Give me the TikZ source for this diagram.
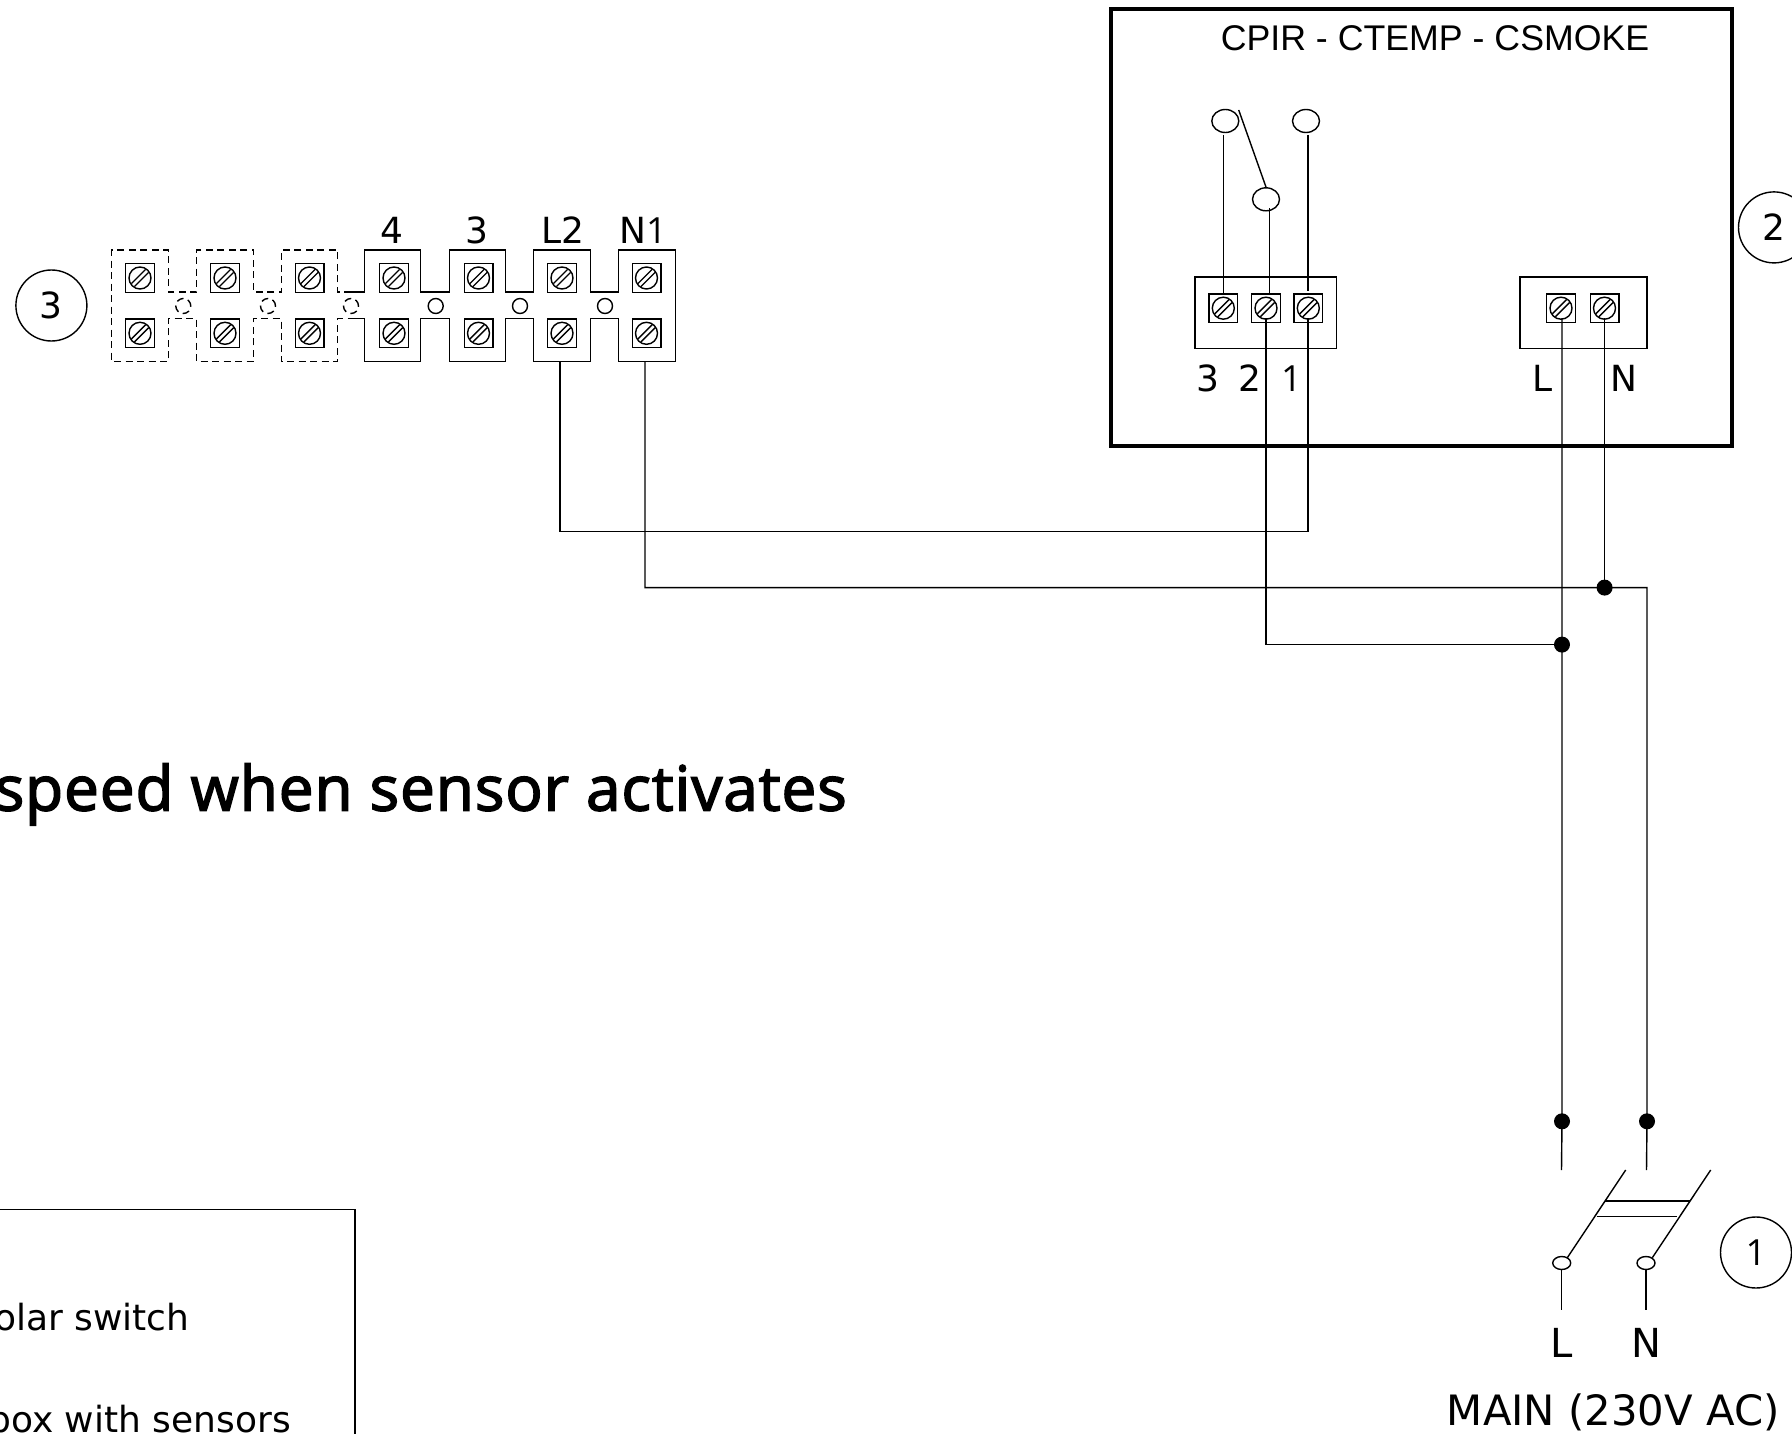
\documentclass[tikz,border=0pt]{standalone}
\usepackage{fontspec}
\setmainfont{DejaVu Sans}
\newfontfamily\helv{Liberation Sans}
\newfontfamily\onefont{Open Sans}
\newfontfamily\titlefam[FakeBold=2.5,LetterSpace=1.5]{Open Sans}
\newcommand{\lblfont}{\fontsize{36}{36}\selectfont}
\newcommand{\titlefont}{\titlefam\fontsize{62}{62}\selectfont}
\newcommand{\bigfont}{\fontsize{40}{40}\selectfont}
\newcommand{\mainfontsz}{\fontsize{41.8}{41.8}\selectfont}
\usetikzlibrary{shapes.geometric,calc}
\tikzset{
  wire/.style={line width=1.4pt,black},
  dashwire/.style={wire,dash pattern=on 7pt off 4.5pt},
  lbl/.style={inner sep=0pt,anchor=base,font=\lblfont},
  screwbox/.style={draw,line width=1.4pt,minimum size=28.6pt,inner sep=0pt,outer sep=0pt},
  dot/.style={circle,fill=black,minimum size=16pt,inner sep=0pt},
  oval/.style={ellipse,draw,line width=1.4pt,inner sep=0pt,minimum width=27pt,minimum height=23pt},
  joint/.style={circle,draw,line width=1.4pt,inner sep=0pt,minimum size=15pt},
  numcircle/.style={circle,draw,line width=1.4pt,minimum size=71pt,inner sep=0pt,font=\lblfont}
}
\newcommand{\screw}[3]{%
  \node[screwbox] (#1) at (#2,#3) {};
  \draw[wire] (#2,#3) circle (11pt);
  \draw[wire] ($(#2,#3)+(-8.6,5.6)$) -- ($(#2,#3)+(5.6,-8.6)$);
  \draw[wire] ($(#2,#3)+(-5.6,8.6)$) -- ($(#2,#3)+(8.6,-5.6)$);
}
\begin{document}
\begin{tikzpicture}[x=1pt,y=-1pt]
\useasboundingbox (0,0) rectangle (1792,1434);
\clip (0,0) rectangle (1792,1434);
% terminal strip outline
\draw[dashwire]
  (351,292) -- (337.7,292) -- (337.7,250) -- (281.3,250) -- (281.3,292) -- (253.3,292) -- (253.3,250) -- (196.7,250) -- (196.7,292) -- (168.3,292) -- (168.3,250) -- (111.7,250) -- (111.7,361.7) -- (168.3,361.7) -- (168.3,318.7) -- (196.7,318.7) -- (196.7,361.7) -- (253.3,361.7) -- (253.3,318.7) -- (281.3,318.7) -- (281.3,361.7) -- (337.7,361.7) -- (337.7,318.7) -- (351,318.7);
\draw[wire] (351,292) -- (364.3,292) -- (364.3,250) -- (420.7,250) -- (420.7,292) -- (449.3,292) -- (449.3,250) -- (505.7,250) -- (505.7,292) -- (533.7,292) -- (533.7,250) -- (590.7,250) -- (590.7,292) -- (618.7,292) -- (618.7,250) -- (675.3,250) -- (675.3,361.7) -- (618.7,361.7) -- (618.7,318.7) -- (590.7,318.7) -- (590.7,361.7) -- (533.7,361.7) -- (533.7,318.7) -- (505.7,318.7) -- (505.7,361.7) -- (449.3,361.7) -- (449.3,318.7) -- (420.7,318.7) -- (420.7,361.7) -- (364.3,361.7) -- (364.3,318.7) -- (351,318.7);
% strip screws
\screw{ta1}{140}{278}\screw{tb1}{140}{333.3}
\screw{ta2}{225}{278}\screw{tb2}{225}{333.3}
\screw{ta3}{309.5}{278}\screw{tb3}{309.5}{333.3}
\screw{ta4}{394}{278}\screw{tb4}{394}{333.3}
\screw{ta5}{478.5}{278}\screw{tb5}{478.5}{333.3}
\screw{ta6}{562}{278}\screw{tb6}{562}{333.3}
\screw{ta7}{646.5}{278}\screw{tb7}{646.5}{333.3}
% strip joints
\node[joint,dashwire] (j1) at (183.3,306) {};
\node[joint,dashwire] (j2) at (268,306) {};
\node[joint,dashwire] (j3) at (351,306) {};
\node[joint] (j4) at (435.7,306) {};
\node[joint] (j5) at (520,306) {};
\node[joint] (j6) at (605,306) {};
% strip labels
\node[lbl] (l4) at (392,243.5) {4};
\node[lbl] (l3) at (477,243.5) {3};
\node[lbl] (lL2) at (562.5,243.5) {L2};
\node[lbl] (lN1) at (643,243.5) {N{\onefont 1}};
\node[numcircle] (c3) at (51.4,305.5) {3};
% main box
\node[draw,line width=4pt,minimum width=621pt,minimum height=436.7pt,inner sep=0pt] (box) at (1421.5,227.4) {};
\node[inner sep=0pt,anchor=base,font=\helv\fontsize{35.7}{36}\selectfont] (cap) at (1435,50.5) {CPIR - CTEMP - CSMOKE};
% relay terminals
\node[draw,line width=1.4pt,minimum width=141.3pt,minimum height=71pt,inner sep=0pt] (tbl) at (1265.7,312.7) {};
\node[draw,line width=1.4pt,minimum width=127pt,minimum height=71pt,inner sep=0pt] (tbr) at (1583.5,312.7) {};
\screw{r3}{1223.3}{308.2}\screw{r2}{1266}{308.2}\screw{r1}{1308.3}{308.2}
\screw{rL}{1561}{308.2}\screw{rN}{1604.5}{308.2}
\node[oval] (o3) at (1225.3,121) {};
\node[oval] (o1) at (1306,121) {};
\node[oval] (o2) at (1266,199.3) {};
\coordinate (swtop) at (1238.7,110);
\draw[wire] (swtop) -- (o2.north);
\draw[wire] (1223.3,135) -- (r3.north);
\draw[wire] (1269.3,208.3) -- (1269.3,294);
\draw[wire] (1308,135) -- (1308,291);
\node[lbl] at (1208,391) {3};
\node[lbl] at (1250,391) {2};
\node[lbl] at (1291.5,391) {\onefont 1};
\node[lbl] at (1543,391) {L};
\node[lbl] at (1624,391) {N};
\node[numcircle] (c2) at (1774,227.4) {2};
% wiring
\coordinate (a1) at (1308,318);
\coordinate (a2) at (1266,318);
\coordinate (tl2) at (560,361.7);
\coordinate (tn1) at (645,361.7);
\node[dot] (dN) at (1604.6,587.6) {};
\node[dot] (dL) at (1562,644.6) {};
\node[dot] (dBL) at (1562,1121.3) {};
\node[dot] (dBN) at (1647,1121.3) {};
\draw[wire] (tl2) -- (560,531.5) -- (1308,531.5) -- (a1);
\draw[wire] (tn1) -- (645,587.6) -- (dN.center) -- (1647,587.6) -- (dBN.center) -- (1646.5,1170);
\draw[wire] (a2) -- (1266,644.6) -- (dL.center);
\draw[wire] (1562,318) -- (dL.center) -- (dBL.center) -- (1561.5,1170);
\draw[wire] (1604.6,318) -- (dN.center);
% breaker
\node[joint,ellipse,minimum width=18pt,minimum height=13pt] (bl) at (1561.7,1263) {};
\node[joint,ellipse,minimum width=18pt,minimum height=13pt] (br) at (1646,1263) {};
\draw[wire] (1625.7,1170) -- (1567.3,1257.7);
\draw[wire] (1710.7,1170) -- (1652.3,1257.7);
\draw[wire] (1605,1201) -- (1690,1201);
\draw[wire] (1596.7,1216.7) -- (1676.7,1216.7);
\draw[wire] (bl.south) -- (1561.7,1310);
\draw[wire] (br.south) -- (1646,1310);
\node[lbl,font=\bigfont] at (1562,1357) {L};
\node[lbl,font=\bigfont] at (1646.5,1357) {N};
\node[numcircle] (c1) at (1756,1252.5) {\onefont 1};
\node[lbl,anchor=base east,font=\mainfontsz] at (1780,1425) {MAIN (230V AC)};
% title and legend
\node[inner sep=0pt,anchor=base east,font=\titlefont] (title) at (847,810.5) {speed when sensor activates};
\draw[wire] (-5,1209.5) -- (355,1209.5) -- (355,1440);
\node[lbl,anchor=base east] at (189.5,1330) {olar switch};
\node[lbl,anchor=base east] at (291,1432.7) {box with sensors};
\end{tikzpicture}
\end{document}
